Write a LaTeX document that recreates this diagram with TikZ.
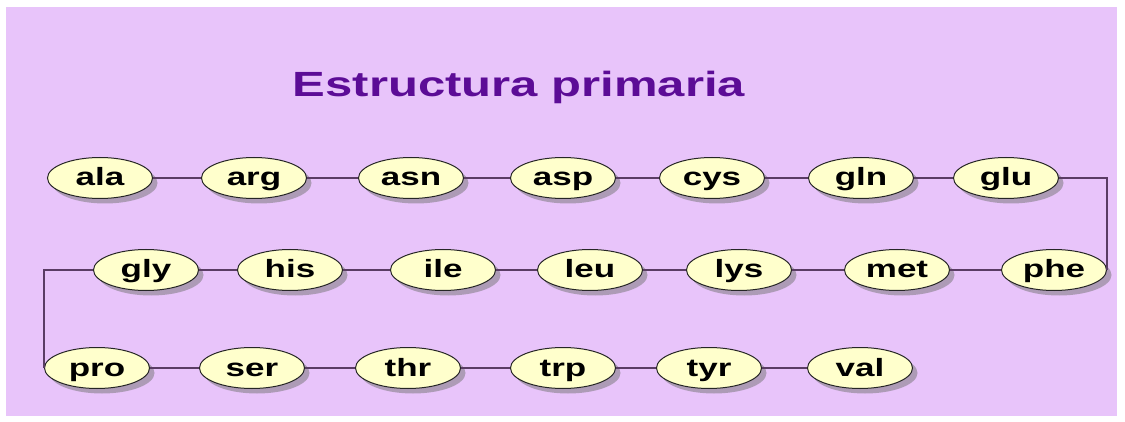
\documentclass[tikz,border=0pt]{standalone}
\usepackage{fontspec}
\usepackage{graphicx}
\setmainfont{Liberation Sans}
\usetikzlibrary{shapes.geometric}
\usetikzlibrary{shadows}

\definecolor{lilac}{RGB}{232,196,250}
\definecolor{cream}{RGB}{255,255,204}
\definecolor{titlepurple}{RGB}{92,12,150}
\definecolor{linkcolor}{RGB}{90,60,100}
\newcommand{\widetext}[1]{\scalebox{1.4}[1]{#1}}

\begin{document}
\begin{tikzpicture}[x=1pt,y=-1pt]
\useasboundingbox (0,0) rectangle (1125,422);
\fill[lilac] (6,7) rectangle (1117,416);

\node[text=titlepurple, font=\fontsize{35}{35}\selectfont\bfseries] (title) at (519,87) {\widetext{Estructura primaria}};

\begin{scope}[every node/.style={ellipse, draw=black!85, line width=1pt, fill=cream,
              minimum width=105pt, minimum height=41pt, inner sep=0pt,
              text height=18pt, text depth=2pt,
              drop shadow={shadow xshift=5pt, shadow yshift=-5pt, fill=black!55},
              font=\fontsize{25}{25}\selectfont\bfseries}]
    % first row
    \node (ala) at (100, 178) {\widetext{ala}};
    \node (arg) at (254, 178) {\widetext{arg}};
    \node (asn) at (411, 178) {\widetext{asn}};
    \node (asp) at (563, 178) {\widetext{asp}};
    \node (cys) at (712, 178) {\widetext{cys}};
    \node (gln) at (861, 178) {\widetext{gln}};
    \node (glu) at (1006, 178) {\widetext{glu}};
    % second row
    \node (gly) at (146, 270) {\widetext{gly}};
    \node (his) at (290, 270) {\widetext{his}};
    \node (ile) at (443, 270) {\widetext{ile}};
    \node (leu) at (590, 270) {\widetext{leu}};
    \node (lys) at (739, 270) {\widetext{lys}};
    \node (met) at (897, 270) {\widetext{met}};
    \node (phe) at (1054, 270) {\widetext{phe}};
    % third row
    \node (pro) at (97, 368) {\widetext{pro}};
    \node (ser) at (252, 368) {\widetext{ser}};
    \node (thr) at (408, 368) {\widetext{thr}};
    \node (trp) at (563, 368) {\widetext{trp}};
    \node (tyr) at (709, 368) {\widetext{tyr}};
    \node (val) at (860, 368) {\widetext{val}};
\end{scope}

\begin{scope}[link/.style={draw=linkcolor, line width=1.2pt}]
    \path (ala) edge [link] (arg);
    \path (arg) edge [link] (asn);
    \path (asn) edge [link] (asp);
    \path (asp) edge [link] (cys);
    \path (cys) edge [link] (gln);
    \path (gln) edge [link] (glu);
    \draw [link] (glu.east) -| (phe.east);
    \path (phe) edge [link] (met);
    \path (met) edge [link] (lys);
    \path (lys) edge [link] (leu);
    \path (leu) edge [link] (ile);
    \path (ile) edge [link] (his);
    \path (his) edge [link] (gly);
    \draw [link] (gly.west) -| (pro.west);
    \path (pro) edge [link] (ser);
    \path (ser) edge [link] (thr);
    \path (thr) edge [link] (trp);
    \path (trp) edge [link] (tyr);
    \path (tyr) edge [link] (val);
\end{scope}
\end{tikzpicture}
\end{document}
